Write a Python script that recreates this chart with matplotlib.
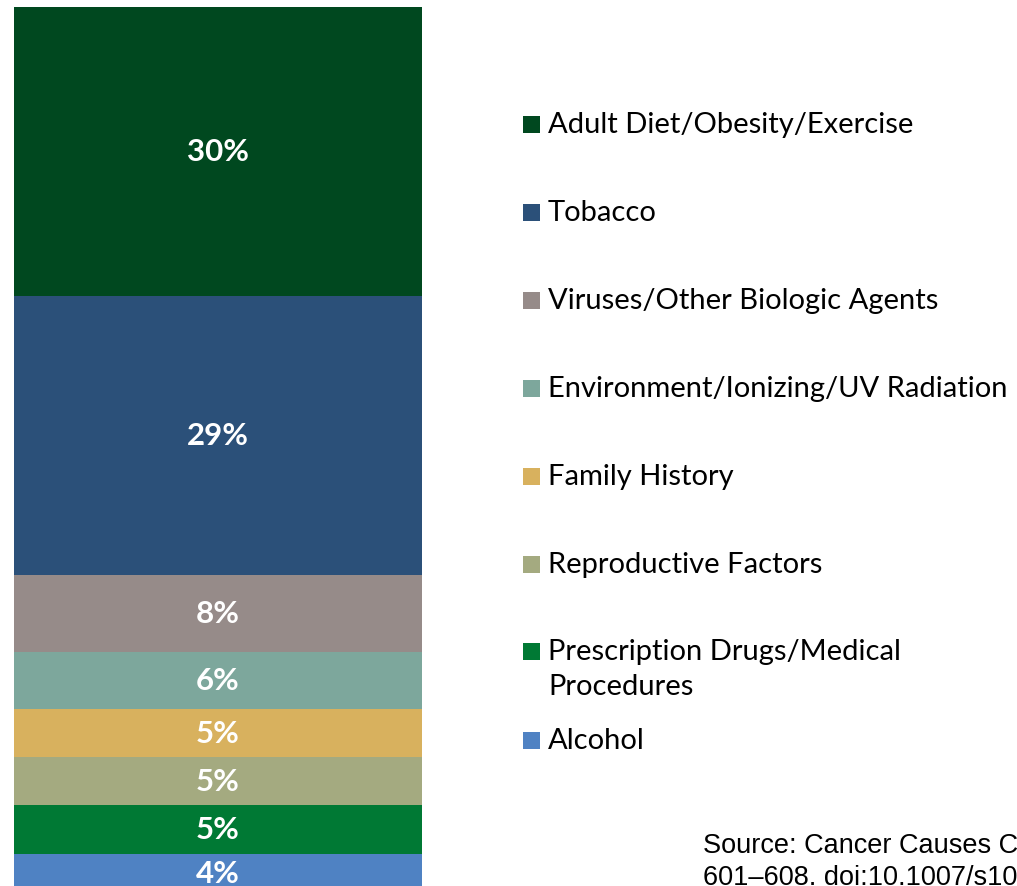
import matplotlib
matplotlib.use("Agg")
import matplotlib.pyplot as plt
from matplotlib.patches import Rectangle
import numpy as np

# cancer cause shares, listed top of the stack -> bottom
causes = ["Adult Diet/Obesity/Exercise", "Tobacco", "Viruses/Other Biologic Agents",
          "Environment/Ionizing/UV Radiation", "Family History", "Reproductive Factors",
          "Prescription Drugs/Medical\nProcedures", "Alcohol"]
shares = [30, 29, 8, 6, 5, 5, 5, 4]
colors = ["#00481f", "#2b5079", "#968b89", "#7da79c", "#d8b15e", "#a4aa80", "#007934", "#4f82c3"]

W, H = 1017, 887
fig = plt.figure(figsize=(W / 100, H / 100), dpi=100)
fig.patch.set_facecolor("white")

total = sum(shares)
# bar spans from y=8px to y=893px (bottom slightly cut off)
ax = fig.add_axes([14 / W, (H - 893) / H, (422 - 14) / W, (893 - 8) / H])
ax.set_xlim(-0.5, 0.5)
ax.set_ylim(0, total)
ax.axis("off")

# stack from the bottom up (alcohol at the bottom)
bottom = 0
for name, val, col in reversed(list(zip(causes, shares, colors))):
    ax.bar(0, val, width=1.0, bottom=bottom, color=col, linewidth=0)
    ax.text(0, bottom + val / 2, f"{val}%", ha="center", va="center",
            color="white", fontsize=22.5, fontweight="bold", family="Lato")
    bottom += val

# legend, drawn by hand so the two-line entry lines up like the original
leg_y = [125, 213, 301, 389, 477, 565, 652, 741]
for name, col, y in zip(causes, colors, leg_y):
    fig.patches.append(Rectangle((523 / W, 1 - (y + 8.5) / H), 17 / W, 17 / H,
                                 transform=fig.transFigure, color=col, linewidth=0))
    fig.text(548 / W, 1 - (y - 13) / H, name, ha="left", va="top",
             fontsize=21, family="Lato", color="black", linespacing=1.42)

fig.text(703 / W, 1 - 853 / H, "Source: Cancer Causes Control. 2012 Apr; 23(4):",
         ha="left", va="baseline", fontsize=19.5, family="Liberation Sans")
fig.text(703 / W, 1 - 885 / H, "601\u2013608. doi:10.1007/s10552-012-9924-9",
         ha="left", va="baseline", fontsize=19.5, family="Liberation Sans")

fig.savefig("out.png", dpi=100)
